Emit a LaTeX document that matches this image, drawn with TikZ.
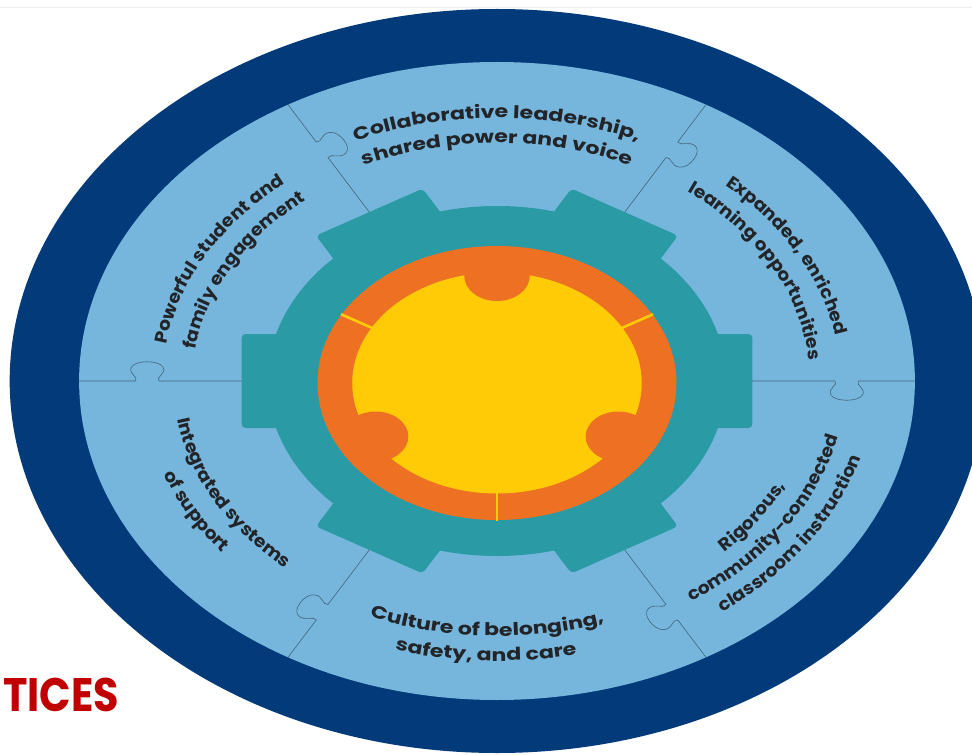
\documentclass[tikz,border=0pt]{standalone}
\usepackage{fontspec}
\usetikzlibrary{decorations.text}
\newfontfamily\labfontw{Poppins}[FakeStretch=1.26]
\newfontfamily\labfonts{Poppins}[FakeStretch=1.07]
\newfontfamily\titfont{Poppins}[FakeStretch=0.88]
\definecolor{ringdark}{HTML}{023A7A}
\definecolor{ringlight}{HTML}{76B6DC}
\definecolor{gearteal}{HTML}{2A9AA5}
\definecolor{ringorange}{HTML}{EE7023}
\definecolor{coreyellow}{HTML}{FFCB07}
\definecolor{seamline}{HTML}{43647C}
\definecolor{labtext}{HTML}{222428}
\definecolor{titred}{HTML}{C00000}
\definecolor{faintrule}{HTML}{EEEEEE}
\newcommand\labstyw{\labfontw\bfseries\fontsize{17.5}{17.5}\selectfont}
\newcommand\labstys{\labfonts\bfseries\fontsize{17.5}{17.5}\selectfont}
% #1 start angle, #2 end angle, #3 radius, #4 style, #5 text
\newcommand\arclabel[5]{%
  \pgfmathsetmacro\arcrx{1.31*#3}%
  \path[decorate,decoration={text along path,text align=center,text color=labtext,text={|#4|#5}}]
    (#1:\arcrx pt and #3pt) arc[start angle=#1,end angle=#2,x radius=\arcrx pt,y radius=#3pt];}
\tikzset{
  seam/.style={draw=seamline,line width=0.6pt},
  tooth/.style={fill=gearteal,rounded corners=4pt},
}
\begin{document}
\begin{tikzpicture}[x=1pt,y=1pt]
\useasboundingbox (-497,-374) rectangle (475,381);
\fill[white] (-497,-374) rectangle (475,381);
\coordinate (ruleL) at (-497,373);
\coordinate (ruleR) at (475,373);
\draw[faintrule,line width=1pt] (ruleL) -- (ruleR);
\begin{scope}[xscale=1.31]
  \fill[ringdark] (0,0) circle (372);
  \fill[ringlight] (0,0) circle (319);
  \foreach \a in {0,60,...,300}{
    \draw[seam,rotate=\a] (185,0) -- (258,0) .. controls (261,-4) and (252,-7) .. (255,-14)
      .. controls (258,-21) and (276,-21) .. (279,-14) .. controls (282,-7) and (273,-4) .. (276,0) -- (319,0);
  }
  \fill[gearteal] (0,0) circle (175);
  \foreach \a in {0,60,...,300}{
    \fill[tooth,rotate=\a] (160,-47) -- (195,-47) -- (195,47) -- (160,47) -- cycle;
  }
  \begin{scope}[shift={(0,-2)}]
    \fill[ringorange] (0,0) circle (137);
    \fill[coreyellow] (0,0) circle (110.5);
    \foreach \a in {90,210,330}{\fill[ringorange] (\a:107) circle (25);}
    \foreach \a in {30,150,270}{\draw[coreyellow,line width=2.6pt] (\a:109) -- (\a:137.5);}
  \end{scope}
\end{scope}
% labels
\arclabel{148}{32}{263}{\labstyw}{Collaborative leadership,}
\arclabel{148}{32}{238}{\labstyw}{shared power and voice}
\arclabel{71.5}{-18.5}{262}{\labstys}{Expanded, enriched}
\arclabel{71.5}{-18.5}{239}{\labstys}{learning opportunities}
\arclabel{-76.5}{13.5}{244}{\labstys}{Rigorous,}
\arclabel{-76.5}{13.5}{266}{\labstys}{community-connected}
\arclabel{-76.5}{13.5}{288}{\labstys}{classroom instruction}
\arclabel{220}{316}{255}{\labstyw}{Culture of belonging,}
\arclabel{220}{316}{280}{\labstyw}{safety, and care}
\arclabel{161.5}{251.5}{247}{\labstys}{Integrated systems}
\arclabel{161.5}{251.5}{271}{\labstys}{of support}
\arclabel{198}{108}{255}{\labstys}{Powerful student and}
\arclabel{198}{108}{232}{\labstys}{family engagement}
\node[anchor=base west,inner sep=0pt,text=titred,font=\titfont\bfseries\fontsize{47}{47}\selectfont] (tices) at (-494,-330) {TICES};
\end{tikzpicture}
\end{document}
